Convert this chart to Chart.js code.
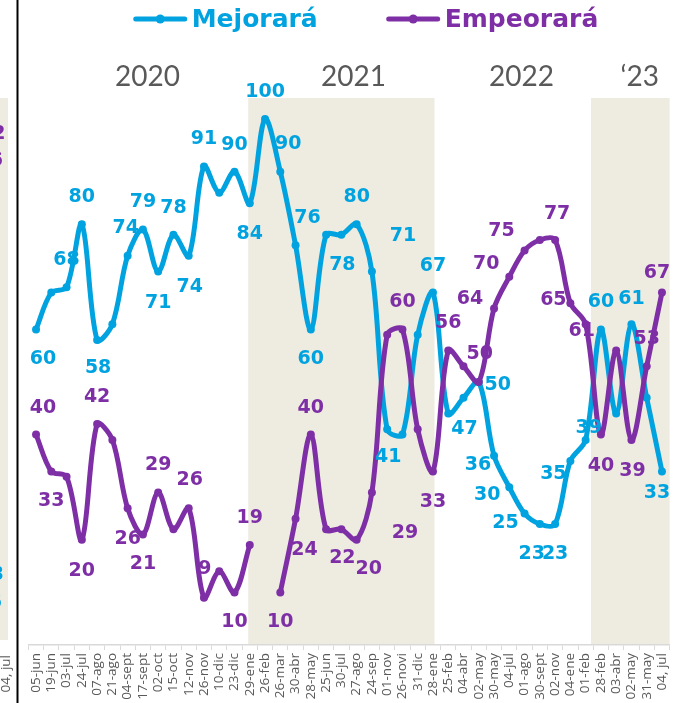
<!DOCTYPE html>
<html>
<head>
<meta charset="utf-8">
<script src="https://cdn.jsdelivr.net/npm/chart.js@4"></script>
<style>
html,body{margin:0;padding:0;background:#ffffff;overflow:hidden}
#wrap{width:679px;height:703px;position:relative}
</style>
</head>
<body>
<div id="wrap"><canvas id="c" width="679" height="703"></canvas></div>
<script>
// ---------- data ----------
const categories = ['05-jun','19-jun','03-jul','24-jul','07-ago','21-ago','04-sept','17-sept','02-oct','15-oct','12-nov','26-nov','10-dic','23-dic',
  '29-ene','26-feb','26-mar','30-abr','28-may','25-jun','30-jul','27-ago','24-sep','01-nov','26-novi','31-dic',
  '28-ene','25-feb','04-abr','02-may','30-may','04-jul','01-ago','30-sept','02-nov',
  '04-ene','01-feb','28-feb','03-abr','02-may','31-may','04, jul'];
const mejorara  = [60,67,68,80,58,61,74,79,71,78,74,91,86,90,84,100,90,76,60,78,78,80,71,41,40,59,67,44,47,50,36,30,25,23,23,35,39,60,44,61,47,33];
const empeorara = [40,33,32,20,42,39,26,21,29,22,26,9,14,10,19,null,10,24,40,22,22,20,29,59,60,41,33,56,53,50,64,70,75,77,77,65,61,40,56,39,53,67];
const seriesNames = ['Mejorará','Empeorará'];
const yearLabels = ['2020','2021','2022','\u201823'];

// ---------- styling / layout (not data) ----------
const BLUE = '#00a3df', PURPLE = '#7e2fa6', BEIGE = '#eeebe1', GRAY = '#595959';
const yearAnchors = [7.3, 20.8, 31.8, 39.55];      // category-index positions of year titles
const shadedBands = [[13.9, 26.1], [36.35, 41.5]];  // category-index ranges of beige bands
const A = [0,-27], B = [0,30];
const blueLabelOffsets = [[7,30],null,A,A,[1,28],null,[-2,-28],A,[0,31],A,[1,31],A,null,A,[0,31],A,[8,-28],[12,-27],B,null,
  [1,30],A,[31,-36],[1,28],null,null,A,null,[1,31],[19,3],[-16,9],[-22,8],[-19,10],[-8,30],[0,30],[-17,13],[3,-12],A,null,[0,-25],null,[-5,22]];
const purpleLabelOffsets = [[7,-27],B,null,[0,31],A,null,[0,31],B,A,null,[1,-28],[1,-29],null,B,A,null,B,[9,31],A,null,
  [1,29],[12,29],[33,41],null,A,null,[0,31],A,null,[1,-28],[-24,-9],[-23,-13],[-23,-19],null,[2,-26],[-17,-3],[-4,7],[0,31],null,[1,31],A,[-5,-20]];
const labelOffsets = [blueLabelOffsets, purpleLabelOffsets];

function idxToPx(scale, f){
  const p0 = scale.getPixelForValue(0), step = scale.getPixelForValue(1) - p0;
  return p0 + f * step;
}

const decorPlugin = {
  id: 'decor',
  beforeDatasetsDraw(chart){
    const {ctx, chartArea} = chart; const xs = chart.scales.x;
    ctx.save();
    ctx.fillStyle = BEIGE;
    shadedBands.forEach(([a,b]) => {
      const x1 = idxToPx(xs, a), x2 = Math.min(idxToPx(xs, b), chartArea.right);
      ctx.fillRect(x1, chartArea.top, x2 - x1, chartArea.bottom - chartArea.top - 1);
    });
    // fragment of neighbouring chart on the left
    ctx.fillRect(0, chartArea.top, 8, chartArea.bottom - chartArea.top - 5);
    ctx.restore();
  },
  afterDatasetsDraw(chart){
    const {ctx} = chart;
    ctx.save();
    ctx.font = 'bold 19px "DejaVu Sans"';
    ctx.textAlign = 'center'; ctx.textBaseline = 'middle';
    chart.data.datasets.forEach((ds, di) => {
      const meta = chart.getDatasetMeta(di);
      const offs = labelOffsets[di];
      ctx.fillStyle = ds.borderColor;
      meta.data.forEach((pt, i) => {
        const v = ds.data[i], o = offs[i];
        if (v == null || !o) return;
        ctx.fillText(String(v), pt.x + o[0], pt.y + o[1]);
      });
    });
    ctx.restore();
  },
  afterDraw(chart){
    const {ctx} = chart; const xs = chart.scales.x;
    ctx.save();
    // year titles
    ctx.fillStyle = GRAY; ctx.font = '28px Lato';
    ctx.textAlign = 'center'; ctx.textBaseline = 'middle';
    yearLabels.forEach((t, i) => ctx.fillText(t, idxToPx(xs, yearAnchors[i]), 77));
    // legend
    ctx.font = 'bold 25px "DejaVu Sans"';
    const colors = [BLUE, PURPLE];
    const sym = 53, gapT = 5, gapI = 69;
    const w = seriesNames.map(n => ctx.measureText(n).width);
    let total = 0; w.forEach((tw,i) => { total += sym + gapT + tw + (i ? gapI : 0); });
    let x = 366 - total / 2; const y = 19;
    seriesNames.forEach((n, i) => {
      ctx.strokeStyle = colors[i]; ctx.fillStyle = colors[i]; ctx.lineWidth = 5; ctx.lineCap = 'round';
      ctx.beginPath(); ctx.moveTo(x + 2, y); ctx.lineTo(x + sym - 2, y); ctx.stroke();
      ctx.beginPath(); ctx.arc(x + sym / 2, y, 4.5, 0, Math.PI * 2); ctx.fill();
      ctx.textAlign = 'left';
      ctx.fillText(n, x + sym + gapT, y + 1);
      x += sym + gapT + w[i] + gapI;
    });
    // cut-off fragments of the neighbouring chart
    ctx.font = 'bold 19px "DejaVu Sans"'; ctx.textAlign = 'right';
    ctx.fillStyle = PURPLE; ctx.fillText('42', 5.5, 134); ctx.fillText('36', 3, 161);
    ctx.fillStyle = BLUE; ctx.fillText('33', 4, 575); ctx.fillText('36', 2, 603);
    ctx.fillStyle = GRAY; ctx.font = '13.5px "Open Sans"';
    ctx.translate(6, 655); ctx.rotate(-Math.PI / 2); ctx.textAlign = 'right';
    ctx.fillText('04, jul', 0, 0);
    ctx.restore();
    // black frame line
    ctx.save(); ctx.fillStyle = '#000'; ctx.fillRect(16.5, 0, 2, chart.height); ctx.restore();
  }
};

new Chart(document.getElementById('c'), {
  type: 'line',
  data: {
    labels: categories,
    datasets: [
      { label: seriesNames[0], data: mejorara, borderColor: BLUE, backgroundColor: BLUE,
        pointBackgroundColor: BLUE, borderWidth: 5, pointRadius: 4, pointBorderWidth: 0, tension: 0.33, order: 1 },
      { label: seriesNames[1], data: empeorara, borderColor: PURPLE, backgroundColor: PURPLE,
        pointBackgroundColor: PURPLE, borderWidth: 5, pointRadius: 4, pointBorderWidth: 0, tension: 0.33, spanGaps: false, order: 0 }
    ]
  },
  options: {
    responsive: false, animation: false, devicePixelRatio: 1,
    layout: { padding: { top: 98, left: 28.4, right: 9.4, bottom: 0 } },
    plugins: { legend: { display: false }, tooltip: { enabled: false }, title: { display: false } },
    scales: {
      y: { display: false, min: 0, max: 104 },
      x: {
        offset: true,
        grid: { display: true, drawOnChartArea: false, drawTicks: true, tickLength: 5, color: '#d9d9d9', offset: true, lineWidth: 1 },
        border: { display: true, color: '#d9d9d9', width: 1.5 },
        ticks: { autoSkip: false, maxRotation: 90, minRotation: 90, color: GRAY,
          font: { family: '"Open Sans"', size: 13.5, lineHeight: 1 }, padding: 3 },
        afterFit(s){ s.height = 58; }
      }
    }
  },
  plugins: [decorPlugin]
});
</script>
</body>
</html>
